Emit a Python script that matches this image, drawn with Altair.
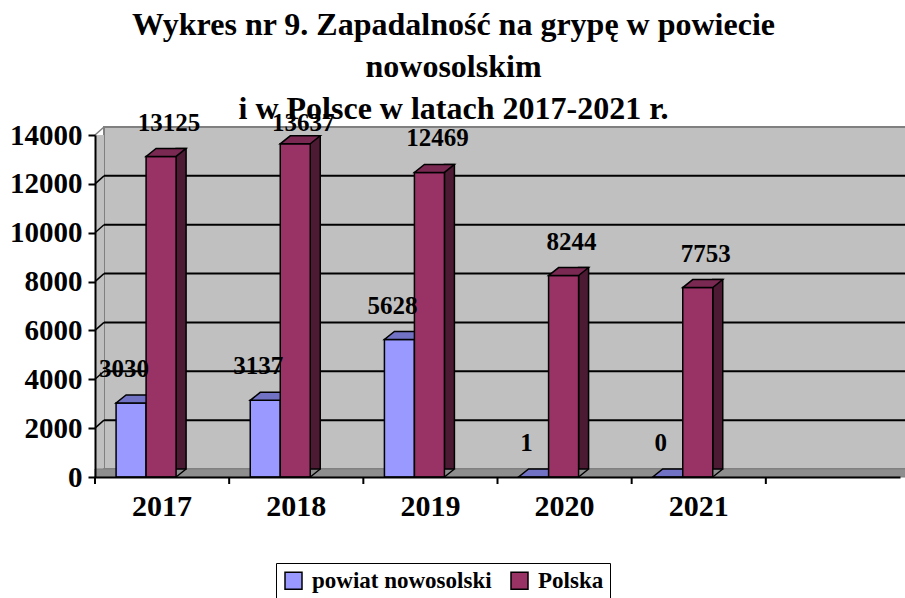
import altair as alt
import pandas as pd

years = ["2017", "2018", "2019", "2020", "2021"]
slots = years + [" "]
powiat = [3030, 3137, 5628, 1, 0]
polska = [13125, 13637, 12469, 8244, 7753]
series_names = ["powiat nowosolski", "Polska"]
grid_values = [2000, 4000, 6000, 8000, 10000, 12000]
tick_values = [0, 2000, 4000, 6000, 8000, 10000, 12000, 14000]
title_lines = ["Wykres nr 9. Zapadalność na grypę w powiecie", "nowosolskim",
               "i w Polsce w latach 2017-2021 r."]

FONT = "Liberation Serif"
BLUE, BLUE_TOP = "#9999FF", "#7272C4"
MAROON, MAROON_TOP, MAROON_SIDE = "#993366", "#7A2952", "#4C1A33"
WALL, WALL_EDGE, FLOOR = "#C0C0C0", "#808080", "#8E8E8E"
HALF_BAND = 805 / 6 / 2
LABEL_CAP = 13100  # data labels are kept inside the frame, as Excel does

rows = []
for y, a, b in zip(years, powiat, polska):
    rows.append({"year": y, "series": series_names[0], "v": a, "label": str(a)})
    rows.append({"year": y, "series": series_names[1], "v": b, "label": str(b)})
df = pd.DataFrame(rows)
slot_df = pd.DataFrame({"year": slots})
grid_df = pd.DataFrame({"v": grid_values})
tick_df = pd.DataFrame({"v": tick_values})

xscale = alt.Scale(domain=slots, paddingInner=0, paddingOuter=0)
yscale = alt.Scale(domain=[0, 14000], nice=False)
X = alt.X("year:N", scale=xscale, sort=slots,
          axis=alt.Axis(title=None, ticks=False, labelAngle=0, labelFont=FONT,
                        labelFontSize=30, labelFontWeight="bold", labelColor="black",
                        labelPadding=29, bandPosition=0.5, labelAlign="center",
                        domainColor="black", domainWidth=2, zindex=1))
Y = alt.Y("v:Q", scale=yscale,
          axis=alt.Axis(title=None, values=tick_values, format="d", grid=False,
                        labelFont=FONT, labelFontSize=29, labelFontWeight="bold",
                        labelColor="black", labelPadding=6, tickSize=7, tickColor="black",
                        tickWidth=2, domainColor="black", domainWidth=2, zindex=1))
color = alt.Color("series:N", scale=alt.Scale(domain=series_names, range=[BLUE, MAROON]),
                  legend=alt.Legend(title=None, orient="none", legendX=181, legendY=428,
                                    direction="horizontal", symbolType="square",
                                    symbolSize=289, symbolStrokeColor="black",
                                    symbolStrokeWidth=1.5, labelFont=FONT,
                                    labelFontSize=23, labelFontWeight="bold",
                                    labelColor="black", labelOffset=7, labelLimit=500,
                                    columnPadding=16, padding=6, strokeColor="black"))

base = alt.Chart(df)

# back wall, gridlines, left wall and floor of the 3D frame
wall = alt.Chart(tick_df).mark_rect(fill=WALL, stroke=WALL_EDGE, strokeWidth=2,
                                    yOffset=-8, y2Offset=-8).encode(
    x=alt.value(9), x2=alt.value(840),
    y=alt.Y("max(v):Q", scale=yscale), y2=alt.Y2("min(v):Q"))
gridlines = alt.Chart(grid_df).mark_rule(color="black", strokeWidth=2,
                                         yOffset=-8, y2Offset=-8).encode(
    y=alt.Y("v:Q", scale=yscale), x=alt.value(9), x2=alt.value(840))
left_wall = alt.Chart(tick_df).mark_rect(fill=WALL).encode(
    x=alt.value(0), x2=alt.value(9),
    y=alt.Y("max(v):Q", scale=yscale), y2=alt.Y2("min(v):Q"))
diagonals = alt.Chart(tick_df).mark_rule(strokeWidth=1.5, y2Offset=-8).encode(
    x=alt.value(0), x2=alt.value(9),
    y=alt.Y("v:Q", scale=yscale), y2=alt.Y2("v:Q"),
    color=alt.condition("datum.v == 14000", alt.value(WALL_EDGE), alt.value("black")))
floor = alt.Chart(tick_df).mark_rect(fill=FLOOR, stroke=WALL_EDGE, strokeWidth=1,
                                     yOffset=-8).encode(
    x=alt.value(0), x2=alt.value(840),
    y=alt.Y("min(v):Q", scale=yscale), y2=alt.Y2("min(v):Q"))
xticks = alt.Chart(slot_df).mark_rule(color="black", strokeWidth=2,
                                      xOffset=-HALF_BAND, x2Offset=-HALF_BAND).encode(
    x=alt.X("year:N", scale=xscale, sort=slots),
    y=alt.value(342), y2=alt.value(349))

TOP_SHAPE = "M-0.6,0 L0.6,0 L1,-0.32 L-0.2,-0.32 Z"
TRI_SHAPE = "M0,0 L1,0 L1,-0.8 Z"
TRI_EDGE = "M0,0 L1,-0.8"

blue = base.transform_filter(alt.datum.series == series_names[0])
maroon = base.transform_filter(alt.datum.series == series_names[1])

blue_front = blue.mark_bar(width=30, xOffset=-31, stroke="black", strokeWidth=1.5,
                           opacity=1).encode(x=X, y=Y, color=color)
blue_top = blue.mark_point(shape=TOP_SHAPE, size=2500, filled=True, fill=BLUE_TOP,
                           stroke="black", strokeWidth=1.5, opacity=1,
                           xOffset=-31).encode(x=X, y=Y)
maroon_side = maroon.mark_bar(width=10, xOffset=19, yOffset=-8, fill=MAROON_SIDE,
                              stroke="black", strokeWidth=1.5).encode(x=X, y=Y)
maroon_patch = maroon.mark_point(shape=TRI_SHAPE, size=400, filled=True, fill=FLOOR,
                                 strokeWidth=0, opacity=1, xOffset=14).encode(
    x=X, y=alt.Y("zero:Q", scale=yscale)).transform_calculate(zero="0")
maroon_edge = maroon.mark_point(shape=TRI_EDGE, size=400, filled=False, stroke="black",
                                strokeWidth=1.5, opacity=1, xOffset=14).encode(
    x=X, y=alt.Y("zero:Q", scale=yscale)).transform_calculate(zero="0")
maroon_front = maroon.mark_bar(width=30, xOffset=-1, stroke="black", strokeWidth=1.5,
                               opacity=1).encode(x=X, y=Y, color=color)
maroon_top = maroon.mark_point(shape=TOP_SHAPE, size=2500, filled=True, fill=MAROON_TOP,
                               stroke="black", strokeWidth=1.5, opacity=1,
                               xOffset=-1).encode(x=X, y=Y)

LY = alt.Y("lpos:Q", scale=yscale)
blue_labels = blue.transform_calculate(lpos=f"min(datum.v, {LABEL_CAP})").mark_text(
    font=FONT, fontSize=25, fontWeight="bold", color="black",
    dx=-38, dy=-34, baseline="middle").encode(x=X, y=LY, text="label:N")
maroon_labels = maroon.transform_calculate(lpos=f"min(datum.v, {LABEL_CAP})").mark_text(
    font=FONT, fontSize=25, fontWeight="bold", color="black",
    dx=7, dy=-34, baseline="middle").encode(x=X, y=LY, text="label:N")

chart = alt.layer(
    wall, gridlines, left_wall, diagonals, floor, xticks,
    blue_front, blue_top, maroon_side, maroon_patch, maroon_edge, maroon_front, maroon_top,
    blue_labels, maroon_labels,
).properties(
    width=805, height=342,
    padding={"left": 95, "top": 135, "right": 5, "bottom": 121},
    autosize=alt.AutoSizeParams(type="none"),
    background="white",
    title=alt.TitleParams(text=title_lines, font=FONT, fontSize=32, fontWeight="bold",
                          color="black", lineHeight=42, anchor="middle", dx=-44, dy=19),
).configure_view(stroke=None)

chart.save("out.html", embed_options={"renderer": "svg", "actions": False})
